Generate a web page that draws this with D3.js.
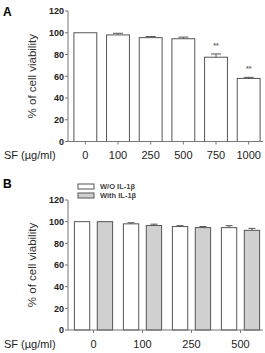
<!DOCTYPE html>
<html>
<head>
<meta charset="utf-8">
<script src="https://cdn.jsdelivr.net/npm/d3@7"></script>
<style>
  body { margin: 0; background: #fff; }
  text { font-family: "Liberation Sans", Arial, sans-serif; }
</style>
</head>
<body>
<div id="chart-area"></div>
<script>
// panel A data
var doseA = ["0", "100", "250", "500", "750", "1000"];
var viabA = [100, 98, 95.5, 94.5, 77.5, 58];
var errA = [0, 1.5, 1, 1.5, 3, 1];
var starsA = ["", "", "", "", "**", "**"];

// panel B data
var doseB = ["0", "100", "250", "500"];
var seriesB = ["W/O IL-1\u03b2", "With IL-1\u03b2"];
var viabNoIL = [100, 98, 95.5, 94.5];
var errNoIL = [0, 1, 0.8, 1.8];
var viabIL = [100, 96.5, 94.5, 92];
var errIL = [0, 1.2, 1, 1.8];

var yTicks = [0, 20, 40, 60, 80, 100, 120];

var svg = d3.select("#chart-area")
    .append("svg")
        .attr("width", 265)
        .attr("height", 353);

var axisCol = "#777";
var barCol = "#555";
var fills = ["#ffffff", "#d0d0d0"];

function drawYAxis(g, y, top, bottom) {
    g.append("line")
        .attr("x1", 68).attr("x2", 68)
        .attr("y1", top).attr("y2", bottom)
        .attr("stroke", axisCol);
    yTicks.forEach(function(t) {
        g.append("line")
            .attr("x1", 65).attr("x2", 68)
            .attr("y1", y(t)).attr("y2", y(t))
            .attr("stroke", axisCol);
        g.append("text")
            .attr("x", 64).attr("y", y(t) + 3.3)
            .attr("text-anchor", "end")
            .attr("font-size", 9).attr("font-weight", "bold")
            .attr("fill", "#222")
            .text(t);
    });
    g.append("text")
        .attr("transform", "translate(36," + ((top + bottom) / 2) + ") rotate(-90)")
        .attr("text-anchor", "middle")
        .attr("font-size", 11.5)
        .attr("fill", "#333")
        .text("% of cell viability");
}

function drawXAxis(g, x, yPos, labelY) {
    g.append("line")
        .attr("x1", 68).attr("x2", 263)
        .attr("y1", yPos).attr("y2", yPos)
        .attr("stroke", axisCol);
    x.domain().forEach(function(d) {
        var cx = x(d) + x.bandwidth() / 2;
        g.append("line")
            .attr("x1", cx).attr("x2", cx)
            .attr("y1", yPos).attr("y2", yPos + 3)
            .attr("stroke", axisCol);
        g.append("text")
            .attr("x", cx).attr("y", labelY)
            .attr("text-anchor", "middle")
            .attr("font-size", 11)
            .attr("fill", "#222")
            .text(d);
    });
    g.append("text")
        .attr("x", 4).attr("y", labelY)
        .attr("font-size", 11)
        .attr("fill", "#222")
        .text("SF (\u00b5g/ml)");
}

function errBar(g, cx, y, v, e, cap) {
    if (e <= 0) return;
    g.append("line")
        .attr("x1", cx).attr("x2", cx)
        .attr("y1", y(v)).attr("y2", y(v + e))
        .attr("stroke", barCol);
    g.append("line")
        .attr("x1", cx - cap / 2).attr("x2", cx + cap / 2)
        .attr("y1", y(v + e)).attr("y2", y(v + e))
        .attr("stroke", barCol);
}

// ---- panel A ----
var gA = svg.append("g");
var yA = d3.scaleLinear().domain([0, 120]).range([141.5, 11]);
var xA = d3.scaleBand().domain(doseA).range([69, 265]).paddingInner(0.3).paddingOuter(0.15);

gA.append("text").attr("x", 3).attr("y", 16)
    .attr("font-size", 12).attr("font-weight", "bold").text("A");

gA.selectAll("rect")
        .data(doseA)
    .enter()
        .append("rect")
        .attr("x", function(d) { return xA(d); })
        .attr("y", function(d, i) { return yA(viabA[i]); })
        .attr("width", xA.bandwidth())
        .attr("height", function(d, i) { return yA(0) - yA(viabA[i]); })
        .attr("fill", "#fff")
        .attr("stroke", barCol)
        .attr("stroke-width", 1);

doseA.forEach(function(d, i) {
    var cx = xA(d) + xA.bandwidth() / 2;
    errBar(gA, cx, yA, viabA[i], errA[i], 10);
    if (starsA[i]) {
        gA.append("text")
            .attr("x", cx).attr("y", yA(viabA[i] + errA[i]) - 6)
            .attr("text-anchor", "middle")
            .attr("font-size", 7).attr("font-weight", "bold")
            .attr("fill", "#666")
            .text(starsA[i]);
    }
});

drawYAxis(gA, yA, 11, 141.5);
drawXAxis(gA, xA, 141.5, 159);

// ---- panel B ----
var gB = svg.append("g");
var yB = d3.scaleLinear().domain([0, 120]).range([330, 200]);
var xB = d3.scaleBand().domain(doseB).range([69, 265]).paddingInner(0.22).paddingOuter(0.11);
var xSub = d3.scaleBand().domain(seriesB).range([0, xB.bandwidth()]).paddingInner(0.33);
var valsB = [viabNoIL, viabIL];
var errsB = [errNoIL, errIL];

gB.append("text").attr("x", 3).attr("y", 188)
    .attr("font-size", 12).attr("font-weight", "bold").text("B");

seriesB.forEach(function(s, k) {
    gB.append("g").selectAll("rect")
            .data(doseB)
        .enter()
            .append("rect")
            .attr("x", function(d) { return xB(d) + xSub(s); })
            .attr("y", function(d, i) { return yB(valsB[k][i]); })
            .attr("width", xSub.bandwidth())
            .attr("height", function(d, i) { return yB(0) - yB(valsB[k][i]); })
            .attr("fill", fills[k])
            .attr("stroke", barCol)
            .attr("stroke-width", 1);
    doseB.forEach(function(d, i) {
        var cx = xB(d) + xSub(s) + xSub.bandwidth() / 2;
        errBar(gB, cx, yB, valsB[k][i], errsB[k][i], 7);
    });
});

drawYAxis(gB, yB, 200, 330);
drawXAxis(gB, xB, 330, 348);

// legend
seriesB.forEach(function(s, k) {
    var ly = 184 + k * 9;
    gB.append("rect")
        .attr("x", 78).attr("y", ly)
        .attr("width", 16).attr("height", 5)
        .attr("fill", fills[k])
        .attr("stroke", barCol);
    gB.append("text")
        .attr("x", 100).attr("y", ly + 5)
        .attr("font-size", 7.5).attr("font-weight", "bold")
        .attr("fill", "#444")
        .text(s);
});
</script>
</body>
</html>
